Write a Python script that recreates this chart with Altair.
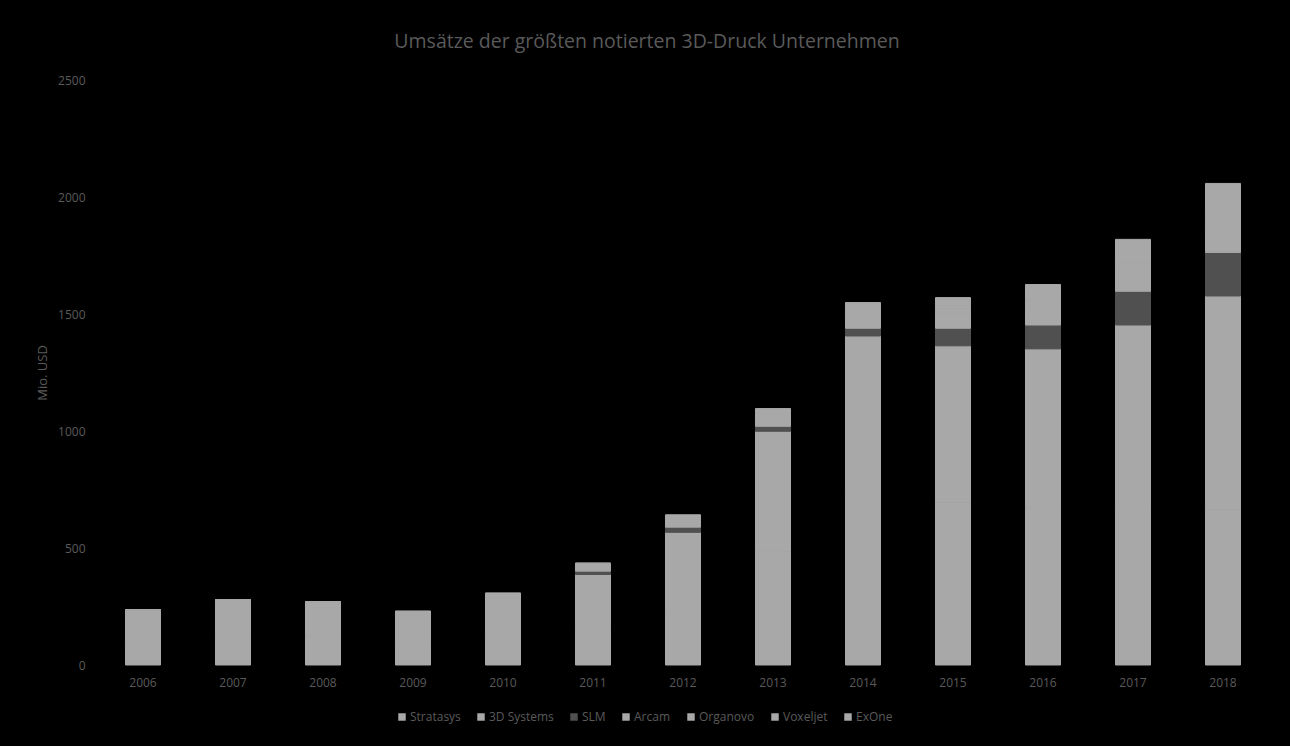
import altair as alt
import pandas as pd

years = ["2006", "2007", "2008", "2009", "2010", "2011", "2012",
         "2013", "2014", "2015", "2016", "2017", "2018"]
series = ["Stratasys", "3D Systems", "SLM", "Arcam", "Organovo", "Voxeljet", "ExOne"]
colors = ["#a8a8a8", "#a8a8a8", "#505050", "#a8a8a8", "#a8a8a8", "#a8a8a8", "#a8a8a8"]

stratasys = [105, 118, 125, 100, 118, 156, 215, 484, 750, 696, 672, 668, 663]
systems3d = [131, 160, 145, 129, 188, 231, 352, 515, 656, 668, 679, 785, 914]
slm = [0, 0, 0, 0, 0, 14, 22, 21, 33, 75, 102, 144, 186]
arcam = [0, 0, 0, 0, 0, 28, 33, 43, 60, 70, 83, 95, 120]
organovo = [0, 0, 0, 0, 0, 0, 1, 1, 1, 1, 2, 4, 4]
voxeljet = [0, 0, 0, 0, 0, 6, 9, 10, 20, 25, 23, 28, 51]
exone = [0, 0, 0, 0, 0, 0, 10, 22, 29, 35, 65, 95, 120]

y_ticks = [0, 500, 1000, 1500, 2000, 2500]

values = [stratasys, systems3d, slm, arcam, organovo, voxeljet, exone]
rows = []
for i, (name, vals) in enumerate(zip(series, values)):
    for y, v in zip(years, vals):
        rows.append({"Jahr": y, "Serie": name, "Wert": v, "idx": i})
df = pd.DataFrame(rows)

txt = "#5a5a5a"
font = "Open Sans"
cscale = alt.Scale(domain=series, range=colors)

chart = alt.Chart(df).mark_bar(strokeWidth=1).encode(
    x=alt.X("Jahr:N", sort=years,
            scale=alt.Scale(paddingInner=0.611, paddingOuter=0.3055),
            axis=alt.Axis(title=None, labelAngle=0, ticks=False, domain=False,
                          labelPadding=12, labelFontSize=12, labelColor=txt,
                          labelFont=font)),
    y=alt.Y("Wert:Q", stack="zero",
            scale=alt.Scale(domain=[0, 2500]),
            axis=alt.Axis(values=y_ticks, format="d", title="Mio. USD", grid=False,
                          domain=False, ticks=False, labelPadding=13, labelFontSize=12,
                          labelColor=txt, labelFont=font, titleColor=txt,
                          titleFont=font, titleFontSize=13, titleFontWeight="normal",
                          titlePadding=8)),
    color=alt.Color("Serie:N", sort=series, scale=cscale,
                    legend=alt.Legend(title=None, orient="none", legendX=298, legendY=631,
                                      direction="horizontal", symbolType="square",
                                      symbolSize=56, symbolStrokeWidth=0,
                                      labelFontSize=12, labelColor=txt, labelFont=font,
                                      columnPadding=14, labelOffset=2, padding=0)),
    stroke=alt.Stroke("Serie:N", sort=series, scale=cscale, legend=None),
    order=alt.Order("idx:Q", sort="ascending"),
).properties(
    width=1170,
    height=585,
    title=alt.TitleParams("Umsätze der größten notierten 3D-Druck Unternehmen",
                          fontSize=19.5, color=txt, fontWeight="normal", font=font,
                          anchor="middle", dx=-36, offset=22),
    autosize=alt.AutoSizeParams(type="none"),
    padding={"left": 98, "top": 80, "right": 22, "bottom": 81},
).configure(
    background="#000000",
).configure_view(
    stroke=None,
)

chart.save("out.html", embed_options={"renderer": "svg", "actions": False})
